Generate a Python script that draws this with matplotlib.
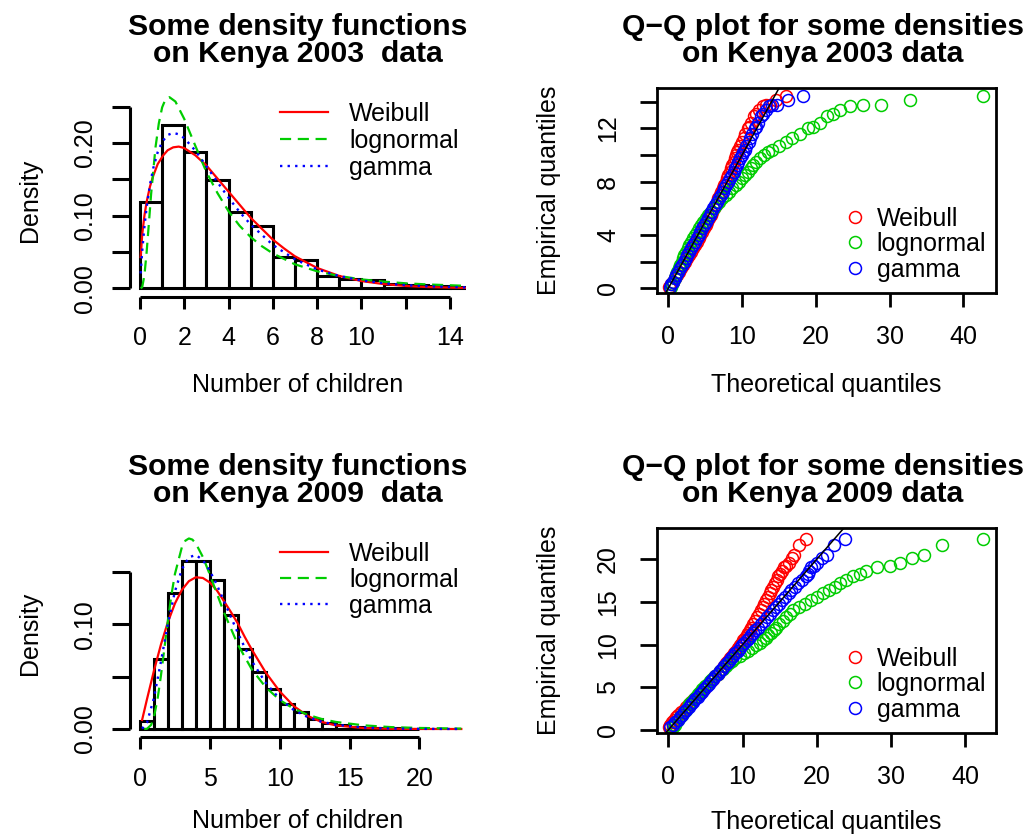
import matplotlib
matplotlib.use("Agg")
import matplotlib.pyplot as plt
from matplotlib.lines import Line2D

plt.rcParams['font.family'] = ['Liberation Sans', 'DejaVu Sans']

RED, GREEN, BLUE = '#FF0000', '#00CD00', '#0000FF'
dist_labels = ['Weibull', 'lognormal', 'gamma']

# ---------------- Kenya 2003: histogram + fitted densities ----------------
hist03_left = [0, 1, 2, 3, 4, 5, 6, 7, 8, 9, 10, 11, 12, 13, 14]
hist03_dens = [0.119, 0.225, 0.188, 0.149, 0.105, 0.086, 0.043, 0.039, 0.017,
               0.013, 0.011, 0.006, 0.004, 0.003, 0.0015]

weib03_x = [0.03, 0.1, 0.2, 0.3, 0.45, 0.6, 0.8, 1.05, 1.25, 1.5, 1.75, 2.0, 2.5, 3.0,
            3.5, 4.0, 4.5, 5.0, 5.5, 6.0, 6.5, 7.0, 7.5, 8.0, 9.0, 10.0, 11.0, 12.0, 13.0, 14.8]
weib03_d = [0.043, 0.074, 0.100, 0.119, 0.140, 0.155, 0.171, 0.183, 0.190, 0.194, 0.195,
            0.193, 0.183, 0.169, 0.151, 0.133, 0.115, 0.097, 0.082, 0.067, 0.055, 0.044,
            0.036, 0.028, 0.017, 0.010, 0.0058, 0.0032, 0.0017, 0.0005]

lnorm03_x = [0.03, 0.1, 0.2, 0.3, 0.4, 0.5, 0.7, 0.85, 1.0, 1.15, 1.33, 1.6, 2.0, 2.5, 3.0,
             3.5, 4.0, 4.5, 5.0, 5.5, 6.0, 7.0, 8.0, 9.0, 10.0, 11.0, 12.0, 13.0, 14.8]
lnorm03_d = [0.0, 0.0017, 0.018, 0.050, 0.089, 0.129, 0.194, 0.227, 0.249, 0.260, 0.263,
             0.257, 0.233, 0.196, 0.160, 0.131, 0.106, 0.086, 0.0705, 0.058, 0.048, 0.033,
             0.0234, 0.0169, 0.0123, 0.0092, 0.0069, 0.0053, 0.0033]

gam03_x = [0.03, 0.1, 0.2, 0.3, 0.45, 0.6, 0.8, 1.0, 1.25, 1.5, 1.75, 2.0, 2.5, 3.0, 3.5,
           4.0, 4.5, 5.0, 6.0, 7.0, 8.0, 9.0, 10.0, 11.0, 12.0, 13.0, 14.8]
gam03_d = [0.0204, 0.0515, 0.0850, 0.1115, 0.1424, 0.1655, 0.1874, 0.2015, 0.2110, 0.2139,
           0.2119, 0.2066, 0.1894, 0.1681, 0.1460, 0.1246, 0.1050, 0.0877, 0.0597, 0.0398,
           0.0260, 0.0168, 0.0108, 0.0069, 0.0043, 0.0027, 0.0012]

dens03_ticks = [0.0, 0.05, 0.10, 0.15, 0.20, 0.25]
dens03_ticklabels = ['0.00', '', '0.10', '', '0.20', '']
child03_ticks = [0, 2, 4, 6, 8, 10, 12, 14]
child03_ticklabels = ['0', '2', '4', '6', '8', '10', '', '14']

# ---------------- Kenya 2009: histogram + fitted densities ----------------
hist09_left = [0, 1, 2, 3, 4, 5, 6, 7, 8, 9, 10, 11, 12, 13, 14, 15, 16, 17, 18, 19]
hist09_dens = [0.008, 0.0666, 0.1297, 0.1606, 0.1606, 0.1424, 0.109, 0.0762, 0.0548,
               0.0382, 0.0239, 0.0166, 0.0092, 0.0054, 0.0035, 0.0022, 0.0014, 0.0009,
               0.0006, 0.0004]

weib09_x = [0.15, 0.5, 1.0, 1.5, 2.0, 2.5, 3.0, 3.5, 4.0, 4.5, 5.0, 5.5, 6.0, 6.5, 7.0,
            7.5, 8.0, 9.0, 10.0, 11.0, 12.0, 13.0, 14.0, 16.0, 18.0, 20.0, 23.0]
weib09_d = [0.0086, 0.0285, 0.0558, 0.0808, 0.1024, 0.1200, 0.1331, 0.1414, 0.1451, 0.1444,
            0.1401, 0.1326, 0.1225, 0.112, 0.101, 0.088, 0.076, 0.054, 0.036, 0.022,
            0.0125, 0.0068, 0.0035, 0.0009, 0.0002, 0.00003, 0.0]

lnorm09_x = [0.3, 0.5, 0.8, 1.0, 1.25, 1.5, 1.75, 2.0, 2.25, 2.5, 3.0, 3.25, 3.5, 3.75, 4.0,
             4.5, 5.0, 5.5, 6.0, 7.0, 8.0, 9.0, 10.0, 11.0, 12.0, 13.0, 14.0, 16.0, 18.0,
             20.0, 23.0]
lnorm09_d = [0.0, 0.0002, 0.0040, 0.0116, 0.0281, 0.0512, 0.0776, 0.1041, 0.1282, 0.1482,
             0.1740, 0.1801, 0.1822, 0.1811, 0.1773, 0.1645, 0.1477, 0.1296, 0.1119, 0.0808,
             0.0571, 0.0399, 0.0278, 0.0194, 0.0136, 0.0096, 0.0068, 0.0035, 0.0018, 0.0010,
             0.0004]

gam09_x = [0.15, 0.5, 1.0, 1.5, 2.0, 2.5, 3.0, 3.5, 4.0, 4.5, 5.0, 5.5, 6.0, 6.5, 7.0, 7.5,
           8.0, 9.0, 10.0, 11.0, 12.0, 13.0, 14.0, 16.0, 18.0, 20.0, 23.0]
gam09_d = [0.0003, 0.0061, 0.0298, 0.0646, 0.1009, 0.1315, 0.1528, 0.1642, 0.1664, 0.1615,
           0.1513, 0.1379, 0.1227, 0.1072, 0.0920, 0.0779, 0.0651, 0.0441, 0.0288, 0.0183,
           0.0114, 0.0069, 0.0041, 0.0014, 0.0005, 0.00015, 0.00003]

dens09_ticks = [0.0, 0.05, 0.10, 0.15]
dens09_ticklabels = ['0.00', '', '0.10', '']
child09_ticks = [0, 5, 10, 15, 20]

# ---------------- Kenya 2003: Q-Q points ----------------
emp03 = [0.1, 0.3, 0.5, 0.75, 1.0, 1.25, 1.5, 1.75, 2.0, 2.25, 2.5, 2.75, 3.0, 3.25, 3.5,
         3.75, 4.0, 4.25, 4.5, 4.75, 5.0, 5.25, 5.5, 5.75, 6.0, 6.25, 6.5, 6.75, 7.0, 7.25,
         7.5, 7.75, 8.0, 8.25, 8.5, 8.75, 9.0, 9.25, 9.5, 9.75, 10.0, 10.2, 10.4, 10.7,
         11.0, 11.3, 11.6, 12.0, 12.1, 12.4, 12.9, 13.1, 13.4, 13.7, 13.75, 13.75, 14.1, 14.4]
theo03_weib = [0.1, 0.35, 0.6, 0.9, 1.2, 1.5, 1.75, 2.05, 2.3, 2.6, 2.85, 3.1, 3.35, 3.6,
               3.85, 4.1, 4.35, 4.6, 4.85, 5.05, 5.3, 5.5, 5.75, 5.95, 6.2, 6.4, 6.6, 6.8,
               7.0, 7.2, 7.4, 7.6, 7.8, 8.0, 8.15, 8.35, 8.5, 8.7, 8.85, 9.0, 9.2, 9.35, 9.5,
               9.7, 9.95, 10.2, 10.45, 10.8, 10.9, 11.2, 11.6, 11.9, 12.3, 12.8, 13.3, 13.8,
               14.6, 15.9]
theo03_lnorm = [0.32, 0.52, 0.68, 0.87, 1.05, 1.23, 1.41, 1.60, 1.79, 1.99, 2.19, 2.41, 2.63,
                2.86, 3.10, 3.35, 3.61, 3.89, 4.17, 4.46, 4.77, 5.10, 5.43, 5.78, 6.15, 6.53,
                6.93, 7.33, 7.76, 8.21, 8.68, 9.17, 9.6, 10.0, 10.4, 10.8, 11.2, 11.5, 11.9,
                12.5, 13.0, 13.5, 14.0, 15.0, 16.0, 16.8, 17.8, 19.0, 19.65, 20.55, 21.45,
                22.36, 23.3, 24.6, 26.4, 28.9, 32.8, 42.6]
theo03_gamma = [0.2, 0.4, 0.6, 0.85, 1.1, 1.35, 1.6, 1.85, 2.1, 2.35, 2.6, 2.85, 3.1, 3.35,
                3.6, 3.85, 4.1, 4.35, 4.6, 4.85, 5.1, 5.35, 5.6, 5.85, 6.1, 6.35, 6.6, 6.85,
                7.1, 7.35, 7.6, 7.85, 8.1, 8.35, 8.6, 8.85, 9.05, 9.3, 9.5, 9.75, 9.95, 10.15,
                10.35, 10.6, 10.9, 11.1, 11.4, 11.8, 11.95, 12.2, 12.6, 12.85, 13.2, 13.6,
                14.1, 14.7, 16.2, 18.2]

# ---------------- Kenya 2009: Q-Q points ----------------
emp09 = [0.3, 0.6, 0.9, 1.2, 1.5, 1.8, 2.1, 2.4, 2.7, 3.0, 3.3, 3.6, 3.9, 4.2, 4.5, 4.8,
         5.1, 5.4, 5.7, 6.0, 6.3, 6.6, 6.9, 7.2, 7.5, 7.8, 8.1, 8.4, 8.7, 9.0, 9.3, 9.6,
         9.9, 10.2, 10.5, 10.8, 11.1, 11.4, 11.7, 12.0, 12.4, 12.8, 13.2, 13.6, 14.0, 14.4,
         14.8, 15.2, 15.6, 16.0, 16.4, 16.8, 17.2, 17.6, 18.0, 18.3, 18.6, 19.1, 19.2, 19.6,
         20.2, 20.5, 21.7, 22.4]
theo09_weib = [0.05, 0.2, 0.45, 0.75, 1.05, 1.35, 1.7, 2.05, 2.4, 2.75, 3.1, 3.45, 3.8, 4.1,
               4.45, 4.8, 5.1, 5.4, 5.75, 6.05, 6.35, 6.65, 6.95, 7.25, 7.5, 7.8, 8.1, 8.35,
               8.65, 8.9, 9.15, 9.4, 9.65, 9.9, 10.1, 10.35, 10.55, 10.75, 11.0, 11.2, 11.45,
               11.7, 11.95, 12.2, 12.45, 12.7, 12.9, 13.15, 13.4, 13.65, 13.9, 14.1, 14.35,
               14.6, 14.85, 15.05, 15.3, 15.6, 15.9, 16.3, 16.7, 16.9, 17.6, 18.6]
theo09_lnorm = [0.6, 0.85, 1.1, 1.35, 1.6, 1.85, 2.1, 2.35, 2.6, 2.85, 3.1, 3.4, 3.7, 4.0,
                4.3, 4.6, 4.95, 5.3, 5.6, 5.95, 6.3, 6.65, 7.0, 7.35, 7.75, 8.15, 8.6, 9.05,
                9.6, 10.2, 10.75, 11.3, 11.8, 12.3, 12.7, 13.1, 13.5, 13.85, 14.2, 14.5,
                14.95, 15.45, 15.9, 16.4, 16.85, 17.6, 18.4, 19.2, 20.0, 20.8, 21.6, 22.4,
                23.2, 24.0, 24.9, 25.8, 26.7, 28.1, 29.9, 31.2, 32.8, 34.4, 36.9, 42.4]
theo09_gamma = [0.25, 0.6, 0.95, 1.25, 1.55, 1.85, 2.15, 2.45, 2.75, 3.05, 3.35, 3.65, 3.95,
                4.25, 4.55, 4.85, 5.15, 5.45, 5.75, 6.05, 6.35, 6.65, 6.95, 7.25, 7.55, 7.85,
                8.15, 8.45, 8.75, 9.05, 9.35, 9.65, 9.95, 10.25, 10.55, 10.85, 11.15, 11.45,
                11.75, 12.05, 12.45, 12.85, 13.25, 13.65, 14.1, 14.5, 14.9, 15.35, 15.75,
                16.2, 16.6, 17.05, 17.5, 17.95, 18.5, 18.8, 19.0, 19.2, 19.6, 20.0, 20.7,
                21.4, 22.3, 23.8]

qq03_yticks = [0, 2, 4, 6, 8, 10, 12, 14]
qq03_yticklabels = ['0', '', '4', '', '8', '', '12', '']
qq09_yticks = [0, 5, 10, 15, 20]
qq_xticks = [0, 10, 20, 30, 40]

titles = {
    'dens03': 'Some density functions\non Kenya 2003  data',
    'qq03': 'Q\u2212Q plot for some densities\non Kenya 2003 data',
    'dens09': 'Some density functions\non Kenya 2009  data',
    'qq09': 'Q\u2212Q plot for some densities\non Kenya 2009 data',
}

# ---------------- figure ----------------
W, H = 1032, 834
fig = plt.figure(figsize=(W / 100, H / 100), dpi=100)
fig.patch.set_facecolor('white')


def add_ax(l, t, r, b):
    return fig.add_axes([l / W, 1 - b / H, (r - l) / W, (b - t) / H])


FS = 18
TFS = 21.7
MS = 8.6
MEW = 1.1


def style_rot_y(ax):
    for lbl in ax.get_yticklabels():
        lbl.set_rotation(90)
        lbl.set_verticalalignment('center')


def hist_panel(ax, left, dens, curves, xlim, ylim, ybounds, xbounds,
               yt, ytl, xt, xtl, leg_anchor, leg_spacing):
    ax.bar(left, dens, width=1, align='edge', color='white', edgecolor='black',
           linewidth=2.2, zorder=1)
    handles = []
    styles = [dict(color=RED, lw=1.6, ls='-'),
              dict(color=GREEN, lw=1.6, ls=(0, (5, 3))),
              dict(color=BLUE, lw=1.7, ls=(0, (1, 2.2)))]
    for (cx, cy), st, lab in zip(curves, styles, dist_labels):
        h, = ax.plot(cx, cy, label=lab, zorder=3, **st)
        handles.append(h)
    ax.set_xlim(*xlim)
    ax.set_ylim(*ylim)
    for s in ['top', 'right']:
        ax.spines[s].set_visible(False)
    ax.spines['left'].set_bounds(*ybounds)
    ax.spines['bottom'].set_bounds(*xbounds)
    for s in ['left', 'bottom']:
        ax.spines[s].set_linewidth(2.2)
        ax.spines[s].set_capstyle('butt')
    ax.set_yticks(yt)
    ax.set_yticklabels(ytl)
    ax.set_xticks(xt)
    ax.set_xticklabels(xtl)
    ax.tick_params(axis='y', length=13, width=2.2, pad=10.6, labelsize=FS)
    ax.tick_params(axis='x', length=8.6, width=2.2, pad=12.5, labelsize=FS)
    style_rot_y(ax)
    ax.legend(handles=handles, loc='center left', bbox_to_anchor=leg_anchor,
              bbox_transform=fig.transFigure, frameon=False, fontsize=FS,
              handlelength=1.92, handletextpad=0.84, labelspacing=leg_spacing,
              borderpad=0, borderaxespad=0)


def qq_panel(ax, emp, theo, xlim, ylim, yt, ytl, leg_anchor):
    for tx, col in zip(theo, [RED, GREEN, BLUE]):
        ax.plot(tx, emp, ls='none', marker='o', mfc='none', mec=col, ms=MS, mew=MEW, zorder=2)
    ax.axline((0, 0), slope=1, color='black', lw=1.1, zorder=4)
    ax.set_xlim(*xlim)
    ax.set_ylim(*ylim)
    for s in ax.spines.values():
        s.set_linewidth(2.0)
    ax.set_yticks(yt)
    ax.set_yticklabels(ytl)
    ax.set_xticks(qq_xticks)
    ax.set_xticklabels([str(v) for v in qq_xticks])
    ax.tick_params(axis='y', length=12, width=2.0, pad=14.4, labelsize=FS)
    ax.tick_params(axis='x', length=10, width=2.0, pad=12.5, labelsize=FS)
    style_rot_y(ax)
    handles = [Line2D([], [], ls='none', marker='o', mfc='none', mec=c, ms=MS, mew=MEW)
               for c in [RED, GREEN, BLUE]]
    ax.legend(handles, dist_labels, loc='center left', bbox_to_anchor=leg_anchor,
              bbox_transform=fig.transFigure, frameon=False, fontsize=FS,
              handlelength=1.0, handletextpad=0.37, labelspacing=0.06,
              borderpad=0, borderaxespad=0)


# Panel A : 2003 densities
axA = add_ax(130, 92.1, 466, 297)
hist_panel(axA, hist03_left, hist03_dens,
           [(weib03_x, weib03_d), (lnorm03_x, lnorm03_d), (gam03_x, gam03_d)],
           (-0.4517, 14.724), (-0.01197, 0.27), (0, 0.25), (0, 14),
           dens03_ticks, dens03_ticklabels, child03_ticks, child03_ticklabels,
           (280 / W, 1 - 141 / H), 0.12)

# Panel C : 2009 densities
axC = add_ax(130, 530.3, 466, 737.3)
hist_panel(axC, hist09_left, hist09_dens,
           [(weib09_x, weib09_d), (lnorm09_x, lnorm09_d), (gam09_x, gam09_d)],
           (-0.7158, 23.336), (-0.00793, 0.19), (0, 0.15), (0, 20),
           dens09_ticks, dens09_ticklabels, child09_ticks, [str(v) for v in child09_ticks],
           (280 / W, 1 - 580 / H), 0.08)

# Panel B : 2003 Q-Q
axB = add_ax(656.7, 88.3, 996, 293.3)
qq_panel(axB, emp03, [theo03_weib, theo03_lnorm, theo03_gamma],
         (-1.573, 44.43), (-0.375, 15.0), qq03_yticks, qq03_yticklabels,
         (842.5 / W, 1 - 244 / H))

# Panel D : 2009 Q-Q
axD = add_ax(656.7, 528.3, 996, 733.3)
qq_panel(axD, emp09, [theo09_weib, theo09_lnorm, theo09_gamma],
         (-1.563, 44.16), (-0.387, 23.63), qq09_yticks, [str(v) for v in qq09_yticks],
         (842.5 / W, 1 - 684 / H))


def ftext(x, y, s, **kw):
    fig.text(x / W, 1 - y / H, s, **kw)


# titles (two lines each, one text object)
tkw = dict(ha='center', va='top', fontsize=TFS, fontweight='bold',
           linespacing=0.97, multialignment='center')
ftext(298, 13, titles['dens03'], **tkw)
ftext(823, 13, titles['qq03'], **tkw)
ftext(298, 453, titles['dens09'], **tkw)
ftext(823, 453, titles['qq09'], **tkw)

# axis labels
ftext(298, 392.5, 'Number of children', ha='center', va='baseline', fontsize=FS)
ftext(298, 828.5, 'Number of children', ha='center', va='baseline', fontsize=FS)
ftext(826.4, 392, 'Theoretical quantiles', ha='center', va='baseline', fontsize=FS)
ftext(826.4, 828.5, 'Theoretical quantiles', ha='center', va='baseline', fontsize=FS)
ftext(30, 200, 'Density', ha='center', va='center', rotation=90, fontsize=FS)
ftext(30, 633, 'Density', ha='center', va='center', rotation=90, fontsize=FS)
ftext(549, 190.8, 'Empirical quantiles', ha='center', va='center', rotation=90, fontsize=FS)
ftext(549, 630.8, 'Empirical quantiles', ha='center', va='center', rotation=90, fontsize=FS)

fig.savefig('out.png', dpi=100, facecolor='white')
